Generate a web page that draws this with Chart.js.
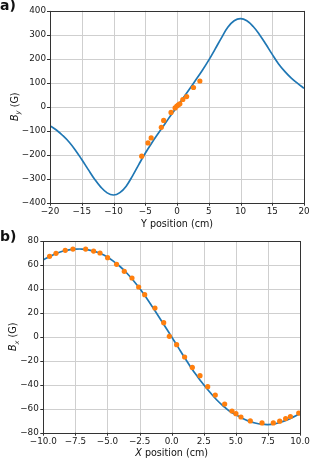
<!DOCTYPE html>
<html><head><meta charset="utf-8">
<script src="https://cdn.jsdelivr.net/npm/chart.js@4/dist/chart.umd.min.js"></script>
<style>
html,body{margin:0;padding:0;background:#fff;}
#wrap{position:relative;width:317px;height:468px;overflow:hidden;}
canvas{position:absolute;left:0;}
</style></head><body>
<div id="wrap">
<canvas id="ca" width="317" height="234" style="top:0;width:317px;height:234px"></canvas>
<canvas id="cb" width="317" height="244" style="top:224px;width:317px;height:244px"></canvas>
</div>
<script>
// ---- Panel a) data ----
const curveAX = [-20,-19,-18,-17,-16,-15,-14,-13,-12,-11,-10,-9,-8,-7,-6,-5,-4,-3,-2,-1,0,1,2,3,4,5,6,7,8,9,10,11,12,13,14,15,16,17,18,19,20];
const curveAY = [-79,-97,-120,-147,-181,-220,-261,-301,-335,-359,-368,-358,-331,-288,-240,-194,-152,-113,-75,-37,0,37,75,113,152,194,240,287,331,358,367,358,334,300,260,218,178,146,119,97,77];
const dotsAX = [-5.56,-4.57,-4.07,-2.47,-2.1,-0.94,-0.3,-0.03,0.22,0.45,0.92,1.52,2.6,3.6];
const dotsAY = [-206,-151,-130,-86,-57,-24,-5,3,8,12,30,42,80,107];
const ticksAX = [-20,-15,-10,-5,0,5,10,15,20];
const ticksAY = [-400,-300,-200,-100,0,100,200,300,400];

// ---- Panel b) data ----
const curveBX = [-10,-9.5,-9,-8.5,-8,-7.5,-7,-6.5,-6,-5.5,-5,-4.5,-4,-3.5,-3,-2.5,-2,-1.5,-1,-0.5,0,0.5,1,1.5,2,2.5,3,3.5,4,4.5,5,5.5,6,6.5,7,7.5,8,8.5,9,9.5,10];
const curveBY = [64.3,67,69.5,71.4,72.6,73.2,73.3,72.6,71.3,69.3,66.5,62.8,58.5,53.3,47.3,40.5,33,25,16.8,8.4,0,-8.6,-17.2,-25.5,-33,-40,-46.5,-52.5,-57.5,-62,-65,-68,-70.3,-71.9,-72.9,-73.2,-72.7,-71.3,-69.3,-66.8,-64];
const dotsBX = [-9.51,-9.01,-8.29,-7.69,-6.70,-6.08,-5.58,-4.99,-4.29,-3.69,-3.09,-2.57,-2.10,-1.30,-0.62,-0.18,0.39,1.01,1.61,2.21,2.81,3.40,4.13,4.70,5.01,5.40,6.13,7.04,7.92,8.42,8.88,9.25,9.90];
const dotsBY = [67.2,69.7,72.2,73.3,73.3,71.6,70.0,66.1,60.5,54.7,49.1,41.6,35.2,24.1,11.8,0.4,-6.5,-16.8,-25.5,-32.4,-41.6,-48.6,-56.1,-61.9,-64.1,-66.9,-70.2,-71.8,-71.8,-70.4,-68.2,-66.5,-63.6];
const ticksBX = [-10,-7.5,-5,-2.5,0,2.5,5,7.5,10];
const ticksBY = [-80,-60,-40,-20,0,20,40,60,80];

// ---- Text ----
const panelA = 'a)';
const panelB = 'b)';
const xTitleA = [{t:'Y position (cm)'}];
const yTitleA = [{t:'B',it:true},{t:'y',it:true,sub:true},{t:' (G)'}];
const xTitleB = [{t:'X',it:true},{t:' position (cm)'}];
const yTitleB = [{t:'B',it:true},{t:'x',it:true,sub:true},{t:' (G)'}];

const FAM = '"DejaVu Sans", sans-serif';
const TICK_SIZE = 8.8, LABEL_SIZE = 9.6;
const fmt = (v, dec) => (v < 0 ? '\u2212' : '') + Math.abs(v).toFixed(dec);
const pts = (xs, ys) => xs.map((x, i) => ({x, y: ys[i]}));

function drawRich(ctx, segs, cx, cy, size) {
  const fontOf = s => (s.it ? 'italic ' : '') + (s.sub ? size * 0.7 : size) + 'px ' + FAM;
  let w = 0;
  segs.forEach(s => { ctx.font = fontOf(s); s._w = ctx.measureText(s.t).width; w += s._w; });
  let x = cx - w / 2;
  ctx.textAlign = 'left';
  ctx.textBaseline = 'alphabetic';
  const base = cy + size * 0.36;
  segs.forEach(s => {
    ctx.font = fontOf(s);
    ctx.fillText(s.t, x, base + (s.sub ? size * 0.22 : 0));
    x += s._w;
  });
}

const deco = {
  id: 'deco',
  beforeDatasetsDraw(chart) {
    const {ctx, chartArea: a, scales} = chart;
    ctx.save();
    ctx.strokeStyle = '#cfcfcf';
    ctx.lineWidth = 1;
    scales.x.ticks.forEach(t => {
      const px = Math.round(scales.x.getPixelForValue(t.value)) + 0.5;
      ctx.beginPath(); ctx.moveTo(px, a.top); ctx.lineTo(px, a.bottom); ctx.stroke();
    });
    scales.y.ticks.forEach(t => {
      const py = Math.round(scales.y.getPixelForValue(t.value)) + 0.5;
      ctx.beginPath(); ctx.moveTo(a.left, py); ctx.lineTo(a.right, py); ctx.stroke();
    });
    ctx.restore();
  },
  afterDraw(chart, args, o) {
    const {ctx, chartArea: a, scales} = chart;
    ctx.save();
    ctx.strokeStyle = '#333';
    ctx.lineWidth = 1;
    scales.x.ticks.forEach(t => {
      const px = Math.round(scales.x.getPixelForValue(t.value)) + 0.5;
      ctx.beginPath(); ctx.moveTo(px, a.bottom); ctx.lineTo(px, a.bottom + 3); ctx.stroke();
    });
    scales.y.ticks.forEach(t => {
      const py = Math.round(scales.y.getPixelForValue(t.value)) + 0.5;
      ctx.beginPath(); ctx.moveTo(a.left - 3, py); ctx.lineTo(a.left, py); ctx.stroke();
    });
    const l = Math.round(a.left) + 0.5, r = Math.round(a.right) + 0.5;
    const tp = Math.round(a.top) + 0.5, b = Math.round(a.bottom) + 0.5;
    ctx.strokeRect(l, tp, r - l, b - tp);
    ctx.fillStyle = '#111';
    ctx.font = 'bold 14px ' + FAM;
    ctx.textAlign = 'left';
    ctx.textBaseline = 'alphabetic';
    ctx.fillText(o.panel, o.panelX, o.panelY);
    drawRich(ctx, o.xTitle, (a.left + a.right) / 2, o.xTitleY, LABEL_SIZE);
    ctx.translate(o.yTitleX, (a.top + a.bottom) / 2);
    ctx.rotate(-Math.PI / 2);
    drawRich(ctx, o.yTitle, 0, 0, LABEL_SIZE);
    ctx.restore();
  }
};

function axis(pos, ticks, dec, fitSize, pad) {
  return {
    type: 'linear', position: pos,
    min: ticks[0], max: ticks[ticks.length - 1],
    afterBuildTicks: s => { s.ticks = ticks.map(v => ({value: v})); },
    afterFit: s => { if (pos === 'bottom') s.height = fitSize; else s.width = fitSize; },
    ticks: {callback: v => fmt(v, dec), autoSkip: false, maxRotation: 0, padding: pad,
            font: {size: TICK_SIZE, family: FAM}, color: '#1a1a1a'},
    grid: {display: true, drawOnChartArea: false, drawTicks: true, tickLength: 3, color: 'rgba(0,0,0,0)'},
    border: {display: false},
    title: {display: false}
  };
}

function makeChart(id, cx, cy, dx, dy, tx, ty, xPad, yPad, layoutPad, xH, yW, deco_o) {
  return new Chart(document.getElementById(id), {
    type: 'scatter',
    data: {datasets: [
      {data: pts(dx, dy), backgroundColor: '#ff7f0e', borderWidth: 0, pointRadius: 2.6, showLine: false},
      {data: pts(cx, cy), borderColor: '#1f77b4', borderWidth: 1.7, pointRadius: 0, showLine: true,
       cubicInterpolationMode: 'default', tension: 0.4, fill: false}
    ]},
    options: {
      responsive: false, animation: false, devicePixelRatio: 1, events: [],
      layout: {padding: layoutPad},
      plugins: {legend: {display: false}, tooltip: {enabled: false}, deco: deco_o},
      scales: {x: axis('bottom', tx, xPad.dec, xH, xPad.p), y: axis('left', ty, yPad.dec, yW, yPad.p)}
    },
    plugins: [deco]
  });
}

makeChart('ca', curveAX, curveAY, dotsAX, dotsAY, ticksAX, ticksAY,
  {dec: 0, p: 1}, {dec: 0, p: 1},
  {top: 10.7, right: 13, left: 0, bottom: 0}, 31.3, 50,
  {panel: panelA, panelX: 0, panelY: 10, xTitle: xTitleA, xTitleY: 224, yTitle: yTitleA, yTitleX: 14.5});

makeChart('cb', curveBX, curveBY, dotsBX, dotsBY, ticksBX, ticksBY,
  {dec: 1, p: 1}, {dec: 0, p: 1.5},
  {top: 17, right: 17, left: 0, bottom: 0}, 35.3, 43.3,
  {panel: panelB, panelX: 0, panelY: 16.5, xTitle: xTitleB, xTitleY: 228.3, yTitle: yTitleB, yTitleX: 13});
</script>
</body></html>
